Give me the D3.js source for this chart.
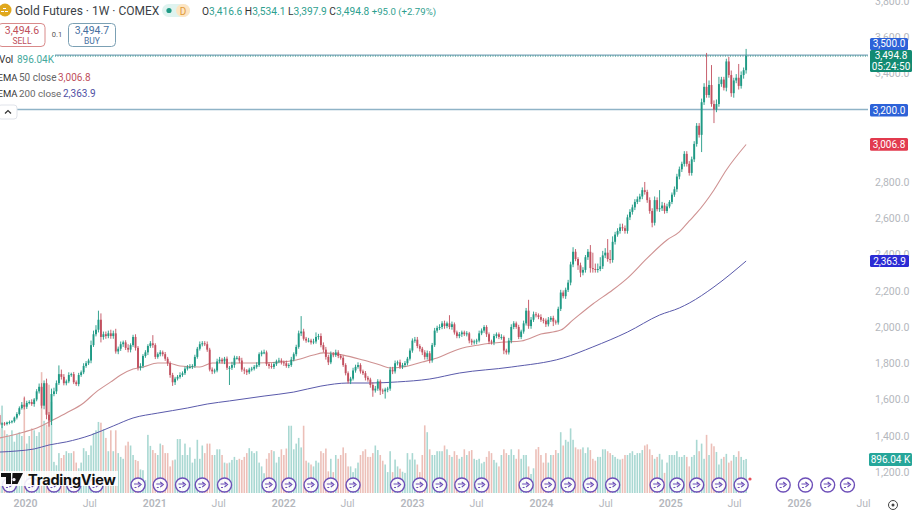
<!DOCTYPE html>
<html><head><meta charset="utf-8">
<script src="https://cdn.jsdelivr.net/npm/d3@7"></script>
<style>
html,body{margin:0;padding:0;background:#fff;overflow:hidden}
text{font-family:Roboto,sans-serif}
</style></head><body><svg id="c" width="912" height="513"></svg>
<script>
const firstBar = "2019-10-14";
const closes = [
1514,1462,1468,1465,1473,1476,1480,1500,1520,
1552,1571,1560,1581,1586,1575,1600,1645,1670,1566,
1690,1516,1484,1630,1645,1690,1740,1725,1690,1700,
1735,1740,1695,1685,1735,1750,1785,1800,1815,1900,
1960,1985,2040,1945,1960,1950,1965,1950,1965,1865,
1880,1905,1915,1885,1875,1900,1945,1885,1775,1785,
1840,1860,1895,1910,1900,1835,1850,1860,1850,1825,
1800,1735,1695,1715,1725,1735,1745,1770,1780,1780,
1785,1835,1880,1905,1910,1905,1875,1765,1755,1760,
1810,1820,1810,1825,1775,1775,1790,1830,1830,1815,
1765,1760,1750,1765,1770,1780,1790,1850,1860,1860,
1795,1785,1780,1795,1810,1815,1805,1800,1785,1790,
1820,1850,1890,1965,1975,1935,1925,1925,1915,1920,
1945,1950,1900,1875,1835,1805,1850,1845,1860,1840,
1830,1790,1745,1700,1715,1760,1780,1790,1755,1745,
1720,1710,1680,1650,1660,1700,1650,1645,1655,1660,
1765,1755,1800,1805,1780,1790,1800,1825,1870,1925,
1930,1895,1880,1860,1835,1855,1815,1900,1980,1995,
2000,2020,2005,2020,2000,2015,1970,1950,1960,1970,
1960,1965,1925,1915,1920,1925,1965,1980,2000,1960,
1920,1915,1950,1960,1945,1945,1870,1860,1925,2000,
2020,2000,1945,1975,2020,2090,2005,2040,2070,2065,
2055,2040,2035,2015,2040,2050,2030,2025,2100,2190,
2170,2205,2245,2345,2415,2375,2340,2300,2315,2385,
2415,2325,2320,2315,2320,2335,2395,2410,2375,2370,
2470,2510,2530,2550,2545,2530,2605,2635,2660,2690,
2705,2720,2755,2745,2700,2640,2575,2700,2650,2655,
2670,2640,2665,2690,2730,2760,2830,2870,2900,2955,
2900,2850,2925,3010,3110,3060,3240,3325,3280,3335,
3230,3200,3230,3340,3365,3320,3465,3390,3290,3360,
3375,3330,3390,3416.6,3494.8];
const wickUp = [
12,10,6,8,5,8,6,6,10,10,
15,45,12,10,15,8,12,18,20,15,
25,15,30,20,15,48,25,15,10,15,
8,12,10,12,10,15,12,10,25,20,
25,50,35,15,15,15,20,15,25,12,
15,10,12,20,10,12,15,10,15,10,
12,10,12,45,10,10,12,10,12,10,
10,12,10,10,15,10,12,10,15,10,
12,10,15,12,12,15,10,12,10,15,
15,10,10,12,10,18,12,10,10,15,
12,8,10,10,10,15,10,10,15,10,
10,15,12,10,15,12,10,15,10,15,
10,12,15,85,15,10,15,10,15,25,
12,15,15,15,12,15,12,15,12,10,
12,10,10,10,15,12,15,10,10,12,
10,10,15,15,12,10,10,10,10,15,
15,15,10,15,12,12,10,12,12,15,
15,10,10,12,15,12,12,15,12,15,
12,15,10,45,15,10,10,12,10,10,
12,8,10,10,10,15,12,10,10,10,
10,12,10,10,15,8,10,15,15,12,
10,12,10,15,15,60,15,15,12,10,
15,10,12,15,10,12,10,12,15,12,
12,15,15,25,15,10,15,15,12,15,
37,85,30,30,50,25,25,75,50,30,
15,15,20,20,15,15,15,15,15,15,
15,15,45,12,15,15,20,15,100,20,
15,15,10,12,15,15,15,12,15,15,
15,15,15,15,15,20,20,187,25,110,
20,25,40,15,15,15,25,25,15,20,
76,20,15,39.3];
const wickDown = [
10,8,20,10,8,10,8,8,10,8,
8,15,12,8,10,15,10,12,15,20,
25,34,25,12,15,10,15,12,12,10,
10,10,10,12,10,10,10,10,15,10,
12,15,30,15,15,12,15,15,12,15,
12,15,12,15,15,10,15,15,15,12,
10,15,10,15,12,10,12,12,12,15,
15,20,15,10,10,10,10,10,10,12,
10,10,10,12,10,12,10,15,12,10,
10,12,15,12,95,12,15,10,15,12,
20,15,10,10,10,10,10,12,10,10,
15,10,12,10,10,12,15,10,12,10,
10,12,10,15,10,12,10,12,10,12,
15,12,15,15,15,10,12,10,12,10,
10,12,12,15,10,12,10,12,10,15,
12,15,35,12,12,25,15,40,15,12,
15,12,12,12,12,10,12,10,12,12,
12,15,15,15,15,15,12,10,12,12,
12,15,12,12,15,12,12,12,15,10,
12,15,15,12,15,10,10,12,15,15,
12,15,12,12,15,20,12,12,15,12,
10,12,12,12,12,15,15,12,12,12,
12,15,15,12,12,25,12,12,12,12,
15,12,15,15,12,25,25,15,15,15,
25,20,15,15,12,15,15,15,20,15,
15,12,15,15,15,15,15,15,15,12,
15,15,15,15,15,25,15,12,15,15,
15,12,10,12,12,15,15,15,15,15,
15,15,15,15,15,95,15,15,15,15,
75,15,15,15,15,20,15,20,25,15,
20,15,20,18.7];
const volumes = [
1750,1700,2300,1650,1550,1500,1650,1350,1550,1600,
1500,2500,1300,1500,1700,1650,1500,1600,3180,1900,
1800,2850,2400,820,730,1050,920,1000,1100,1050,
1050,1100,800,650,800,1180,1100,1000,1250,1580,
1650,1870,1850,1680,1450,1100,1650,1100,1650,1050,
950,900,1250,1350,1250,1000,870,840,620,600,
340,1530,1240,1130,1050,1000,1300,1260,1050,1050,
700,860,880,1420,1420,1000,1300,1000,1200,800,
900,1400,900,1250,1050,1300,1300,1000,1000,1150,
1150,1000,800,780,800,870,950,870,900,870,
950,1050,1180,1100,1050,1100,800,700,520,900,
1050,1130,1100,800,950,1150,1000,1170,1770,1770,
1150,1300,1450,1200,1770,850,800,750,700,850,
800,1100,1050,1170,570,900,550,1000,900,1000,
1200,1050,700,700,550,650,800,1000,1100,1150,
950,950,1050,1250,1130,1000,850,750,550,1100,
550,880,700,640,560,530,1050,880,1050,880,
750,550,1000,1780,1600,1150,1000,1000,1100,1100,
1100,1250,1150,1000,950,1100,1000,900,950,1150,
1000,1100,1130,900,870,900,780,820,950,1100,
1050,870,800,700,1000,1150,1050,1000,1150,1000,
900,1150,900,1000,1000,700,500,650,1150,1210,
1000,800,1050,800,1000,1000,1130,1050,1600,1250,
1400,1350,1700,1400,1200,1150,1150,1200,1050,1200,
1130,900,850,950,950,1150,1150,1100,1050,1000,
950,900,880,900,1000,1000,1050,1100,1000,1050,
1050,1130,1250,1280,1150,1000,900,950,1030,880,
530,800,1000,1000,1000,1100,950,950,1000,950,
700,950,1000,1400,1100,1300,900,1530,1000,1300,
1230,1080,750,900,950,1030,800,850,1000,950,
1100,950,870,896.04];
const ema50Weeks = [1,11,17,21,28,35,40,46,50,55,59,65,69,74,82,87,94,102,115,121,128,132,140,148,155,159,164,172,178,187,195,205,212,220,228,233,241,249,255,263,271,276,280,283,290,295,303];
const ema50Vals = [1388,1421,1448,1476,1525,1581,1641,1697,1735,1768,1779,1801,1801,1785,1779,1801,1801,1801,1807,1818,1845,1857,1845,1818,1790,1774,1779,1807,1829,1879,1901,1917,1923,1961,1983,2039,2127,2204,2270,2380,2480,2525,2585,2629,2756,2866,3006.8];
const ema200Weeks = [1,8,15,21,28,38,47,55,65,77,85,94,108,120,131,142,151,162,175,187,208,229,241,255,268,276,280,290,303];
const ema200Vals = [1310,1316,1327,1349,1366,1404,1454,1498,1525,1553,1575,1592,1619,1641,1674,1691,1691,1697,1713,1746,1779,1829,1890,1972,2066,2105,2132,2221,2363.9];
const eventWeeks = [5,14,23,31,40,57,66,75,83,92,110,118,127,135,144,162,171,179,188,196,214,223,231,240,249,267,275,283,292,301,318,327,336,344];
const priceTicks = [1200,1400,1600,1800,2000,2200,2400,2600,2800,3400,3600,3800];
const timeTicks = ["2020-01-01","2020-07-01","2021-01-01","2021-07-01","2022-01-01","2022-07-01","2023-01-01","2023-07-01","2024-01-01","2024-07-01","2025-01-01","2025-07-01","2026-01-01","2026-07-01"];
const timeLabels = ["2020","Jul","2021","Jul","2022","Jul","2023","Jul","2024","Jul","2025","Jul","2026","Jul"];

const UP="#1f9a85", DOWN="#c2505f", VUP="#a9d8d2", VDOWN="#ecbfb8";
const svg=d3.select("#c");
svg.append("rect").attr("width",912).attr("height",513).attr("fill","#fff");
const parse=d3.utcParse("%Y-%m-%d");
const weekDate=i=>d3.utcWeek.offset(parse(firstBar),i);
const x=d3.scaleUtc().domain([parse("2020-01-01"),parse("2026-07-01")]).range([25,863]);
const y=d3.scaleLinear().domain([1200,3500]).range([472,55.1]);
const vol=d3.scaleLinear().domain([0,1000]).range([493,455]);
const bars=closes.map((c,i)=>{const o=i?closes[i-1]:1495;return{i,o,c,h:Math.max(o,c)+wickUp[i],l:Math.min(o,c)-wickDown[i],v:volumes[i],d:weekDate(i)}});

// axes
const ay=d3.axisRight(y).tickValues(priceTicks).tickSize(0).tickFormat(d=>d3.format(",.1f")(d));
const gy=svg.append("g").attr("transform","translate(875,0)").call(ay);
gy.select(".domain").remove();
gy.selectAll("text").attr("x",0).attr("text-anchor","start").attr("fill","#b4b7bd").attr("font-size",10.5);
const ax=d3.axisBottom(x).tickValues(timeTicks.map(parse)).tickSize(0).tickFormat((d,i)=>timeLabels[i]);
const gx=svg.append("g").attr("transform","translate(0,499)").call(ax);
gx.select(".domain").remove();
gx.selectAll("text").attr("y",1).attr("fill","#b4b7bd").attr("font-size",10.5);
gx.selectAll("text").filter((d,i)=>i%2==0).attr("font-weight",600);

// volume
svg.append("g").selectAll("rect").data(bars).join("rect")
 .attr("x",d=>x(d.d)-0.8).attr("width",1.6).attr("y",d=>vol(d.v)).attr("height",d=>493-vol(d.v))
 .attr("fill",d=>d.c>=d.o?VUP:VDOWN);

// horizontal lines
const hl=svg.append("g");
hl.append("line").attr("x1",55).attr("x2",868).attr("y1",y(3500)).attr("y2",y(3500)).attr("stroke","#7aa4bb").attr("stroke-width",1.3);
hl.append("line").attr("x1",55).attr("x2",868).attr("y1",y(3494.8)).attr("y2",y(3494.8)).attr("stroke","#2a8f7e").attr("stroke-width",1).attr("stroke-dasharray","1 1.5");
hl.append("line").attr("x1",17).attr("x2",868).attr("y1",y(3200)).attr("y2",y(3200)).attr("stroke","#8fb3c7").attr("stroke-width",1.5);

// EMA lines
const line=d3.line().curve(d3.curveMonotoneX);
svg.append("path").attr("fill","none").attr("stroke","#cf9292").attr("stroke-width",1.1)
 .attr("d",line(ema50Weeks.map((w,k)=>[x(weekDate(w)),y(ema50Vals[k])])));
svg.append("path").attr("fill","none").attr("stroke","#5a5aab").attr("stroke-width",1)
 .attr("d",line(ema200Weeks.map((w,k)=>[x(weekDate(w)),y(ema200Vals[k])])));

// candles
const cg=svg.append("g");
cg.selectAll("line").data(bars).join("line")
 .attr("x1",d=>x(d.d)).attr("x2",d=>x(d.d)).attr("y1",d=>y(d.h)).attr("y2",d=>y(d.l))
 .attr("stroke",d=>d.c>=d.o?UP:DOWN).attr("stroke-width",0.9);
cg.selectAll("rect").data(bars).join("rect")
 .attr("x",d=>x(d.d)-0.95).attr("width",1.9)
 .attr("y",d=>y(Math.max(d.o,d.c))).attr("height",d=>Math.max(1,Math.abs(y(d.o)-y(d.c))))
 .attr("fill",d=>d.c>=d.o?UP:DOWN);

// events
const eg=svg.append("g").selectAll("g").data(eventWeeks).join("g")
 .attr("transform",d=>`translate(${x(weekDate(d))},485)`);
eg.append("circle").attr("r",7).attr("fill","#fff").attr("fill-opacity",.85).attr("stroke","#6d4fb8").attr("stroke-width",1.4);
eg.append("path").attr("d","M-4,-1 h6 M0,-3 l3,2.5 l-3,2.5 M-3.5,2.5 h2").attr("fill","none").attr("stroke","#6d4fb8").attr("stroke-width",1.2);
svg.append("circle").attr("cx",750).attr("cy",479).attr("r",1.6).attr("fill","#e8505b");

// logo
svg.append("rect").attr("x",0).attr("y",471).attr("width",118).attr("height",15).attr("fill","#fff").attr("fill-opacity",.88);
svg.append("path").attr("d","M1,473 h10 v11 h-5 v-7 h-5 z M12.5,473 h10.5 l-5.5,11 h-5.5 z M14,478 a1.6,1.6 0 1 0 0.01,0 z").attr("fill","#111");
svg.append("text").attr("x",28).attr("y",484.5).attr("font-size",14.5).attr("font-weight",700).attr("fill","#111").style("letter-spacing","-0.2px").style("font-family","Inter").text("TradingView");

// header
svg.append("circle").attr("cx",5).attr("cy",10).attr("r",6.5).attr("fill","#e0a81e");
svg.append("path").attr("d","M1,12 h3 v-1 h-3 z M5,12 h3 v-1 h-3 z M3,9 h3 v-1 h-3 z").attr("fill","#fff");
const T=(tx,ty,s,fs,col,w,a)=>svg.append("text").attr("x",tx).attr("y",ty).attr("font-size",fs).attr("fill",col).attr("font-weight",w||400).attr("text-anchor",a||"start").text(s);
T(15,15,"Gold Futures · 1W · COMEX",12,"#3b3f47");
svg.append("rect").attr("x",162).attr("y",4).attr("width",28).attr("height",13).attr("rx",6.5).attr("fill","#dff3ef");
svg.append("circle").attr("cx",169).attr("cy",10.5).attr("r",2.6).attr("fill","#1f9a85");
svg.append("rect").attr("x",176).attr("y",4).attr("width",14).attr("height",13).attr("rx",6.5).attr("fill","#fde5c2");
T(183,14.5,"D",10,"#e09a3a",400,"middle");
const ohlc=svg.append("text").attr("x",202).attr("y",15).attr("font-size",10.2);
[["O","#333"],["3,416.6","#2f9f8f"],[" H","#333"],["3,534.1","#2f9f8f"],[" L","#333"],["3,397.9","#2f9f8f"],[" C","#333"],["3,494.8","#2f9f8f"],[" +95.0 (+2.79%)","#2f9f8f"]]
 .forEach((p,k)=>ohlc.append("tspan").attr("fill",p[1]).attr("font-size",k==8?9.6:null).attr("xml:space","preserve").style("white-space","pre").text(p[0]));
svg.append("rect").attr("x",-2).attr("y",23.5).attr("width",47).attr("height",23).attr("rx",4).attr("fill","#fff").attr("stroke","#d98a8a");
T(22,33.5,"3,494.6",10.5,"#c0505c",400,"middle");
T(22,44,"SELL",8.5,"#c0505c",400,"middle");
T(57,37,"0.1",7.5,"#555",400,"middle");
svg.append("rect").attr("x",68.5).attr("y",23.5).attr("width",47).attr("height",23).attr("rx",4).attr("fill","#fff").attr("stroke","#7ba0b4");
T(92,33.5,"3,494.7",10.5,"#47709f",400,"middle");
T(92,44,"BUY",8.5,"#47709f",400,"middle");
// legend
svg.append("rect").attr("x",0).attr("y",51).attr("width",55).attr("height",13).attr("fill","#fff");
T(-1,63,"Vol",10,"#333");
T(17,63,"896.04K",10,"#45a99d");
T(-2.5,80.5,"EMA",9.5,"#333");
T(19,80.5,"50 close",10,"#666");
T(58,80.5,"3,006.8",10,"#c0505c");
T(-2.5,97,"EMA",9.5,"#333");
T(19,97,"200 close",9.8,"#666");
T(63,97,"2,363.9",10,"#4f4fa3");
svg.append("rect").attr("x",-2).attr("y",105).attr("width",19).attr("height",14).attr("rx",3).attr("fill","#fff").attr("stroke","#e0e3ea");
svg.append("path").attr("d","M5,113.5 l3,-3 l3,3").attr("fill","none").attr("stroke","#333").attr("stroke-width",1.2);

// price labels
const tag=(bx,by,bw,bh,col,lines)=>{svg.append("rect").attr("x",bx).attr("y",by).attr("width",bw).attr("height",bh).attr("rx",1.5).attr("fill",col);
 lines.forEach(l=>T(bx+bw/2,l[1],l[0],10,"#fff",400,"middle"));};
tag(870,38,38,12,"#2d62d8",[["3,500.0",47.3]]);
tag(870,50,42,22,"#128a72",[["3,494.8",59],["05:24:50",69.7]]);
tag(870,104,38,12.5,"#2d62d8",[["3,200.0",113.5]]);
tag(870,138,38,12.7,"#e23a4e",[["3,006.8",148]]);
tag(870,255,39,12,"#2c2cd4",[["2,363.9",264.6]]);
tag(869,453,43,13,"#26a69a",[["896.04 K",463.2]]);
svg.append("circle").attr("cx",893).attr("cy",505).attr("r",4.5).attr("fill","none").attr("stroke","#444").attr("stroke-width",1);
svg.append("circle").attr("cx",893).attr("cy",505).attr("r",1.5).attr("fill","#444");
</script></body></html>
